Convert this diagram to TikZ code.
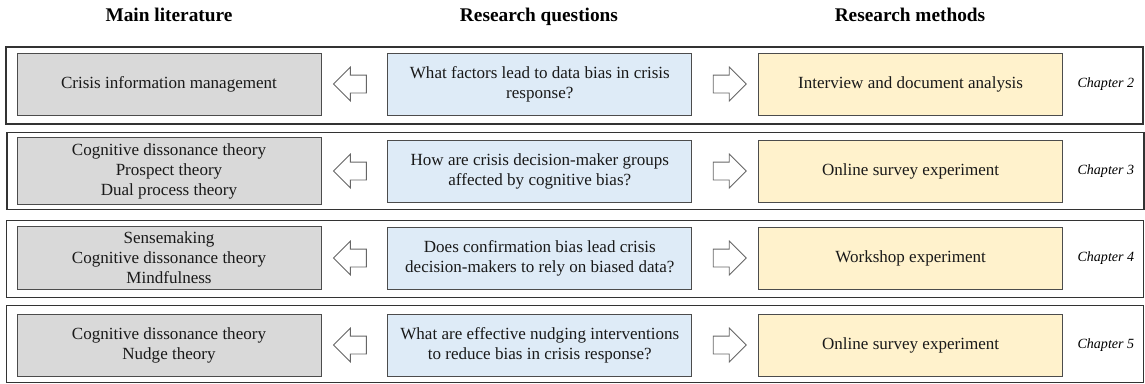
\documentclass[tikz,border=0pt]{standalone}
\usepackage{fontspec}
\setmainfont{Liberation Serif}
\usetikzlibrary{positioning,calc,shapes.arrows}
\definecolor{litgray}{HTML}{D9D9D9}
\definecolor{qblue}{HTML}{DEEBF7}
\definecolor{methyellow}{HTML}{FFF2CC}

\begin{document}
\begin{tikzpicture}[x=0.02cm,y=-0.02cm,node distance=1.32cm,
                    semithick]
  \tikzstyle{box}=[draw=black!70,line width=0.5pt,minimum width=6.08cm,
                   minimum height=1.24cm,align=center,text=black!90,
                   font=\fontsize{9.7}{11.4}\selectfont]
  \tikzstyle{lit}=[box,fill=litgray]
  \tikzstyle{quest}=[box,fill=qblue]
  \tikzstyle{meth}=[box,fill=methyellow]
  \tikzstyle{rowframe}=[draw=black!80,line width=0.7pt,minimum width=22.74cm,
                   minimum height=1.54cm]
  \tikzstyle{head}=[text height=1.6ex,text depth=0.4ex,
                    font=\fontsize{11}{13}\selectfont\bfseries]
  \tikzstyle{chap}=[inner sep=0pt,font=\fontsize{8}{10}\selectfont\itshape]
  \tikzstyle{blk}=[single arrow,draw=black!60,fill=white,line width=0.5pt,
                   inner xsep=0pt,inner ysep=0.17cm,minimum height=0.66cm,
                   single arrow head extend=0.16cm]
  \tikzstyle{larrow}=[blk,shape border rotate=180]

  \useasboundingbox (0,0) rectangle (1145,383);

  % column heads
  \node[head] (h1) at (169,17) {Main literature};
  \node[head] (h2) at (539,17) {Research questions};
  \node[head] (h3) at (910,17) {Research methods};

  % row frames
  \node[rowframe] (row1) at (574.5,85.5) {};
  \node[rowframe] (row2) at (575.5,171)  {};
  \node[rowframe] (row3) at (575,259)    {};
  \node[rowframe] (row4) at (575,344)    {};

  % chapter 2
  \node[lit]   (l1) at (169,84)      {Crisis information management};
  \node[quest] (q1) [right=of l1]    {What factors lead to data bias in crisis\\response?};
  \node[meth]  (m1) [right=of q1]    {Interview and document analysis};
  \node[chap]  (c1) [right=0.28cm of m1] {Chapter 2};

  % chapter 3
  \node[lit]   (l2) at (169,171)     {Cognitive dissonance theory\\Prospect theory\\Dual process theory};
  \node[quest] (q2) [right=of l2]    {How are crisis decision-maker groups\\affected by cognitive bias?};
  \node[meth]  (m2) [right=of q2]    {Online survey experiment};
  \node[chap]  (c2) [right=0.28cm of m2] {Chapter 3};

  % chapter 4
  \node[lit]   (l3) at (169,258)     {Sensemaking\\Cognitive dissonance theory\\Mindfulness};
  \node[quest] (q3) [right=of l3]    {Does confirmation bias lead crisis\\decision-makers to rely on biased data?};
  \node[meth]  (m3) [right=of q3]    {Workshop experiment};
  \node[chap]  (c3) [right=0.28cm of m3] {Chapter 4};

  % chapter 5
  \node[lit]   (l4) at (169,345)     {Cognitive dissonance theory\\Nudge theory};
  \node[quest] (q4) [right=of l4]    {What are effective nudging interventions\\to reduce bias in crisis response?};
  \node[meth]  (m4) [right=of q4]    {Online survey experiment};
  \node[chap]  (c4) [right=0.28cm of m4] {Chapter 5};

  % block arrows
  \node[larrow] (la1) at ($(l1.east)!0.5!(q1.west)$) {};
  \node[blk]    (ra1) at ($(q1.east)!0.5!(m1.west)$) {};
  \node[larrow] (la2) at ($(l2.east)!0.5!(q2.west)$) {};
  \node[blk]    (ra2) at ($(q2.east)!0.5!(m2.west)$) {};
  \node[larrow] (la3) at ($(l3.east)!0.5!(q3.west)$) {};
  \node[blk]    (ra3) at ($(q3.east)!0.5!(m3.west)$) {};
  \node[larrow] (la4) at ($(l4.east)!0.5!(q4.west)$) {};
  \node[blk]    (ra4) at ($(q4.east)!0.5!(m4.west)$) {};
\end{tikzpicture}
\end{document}
